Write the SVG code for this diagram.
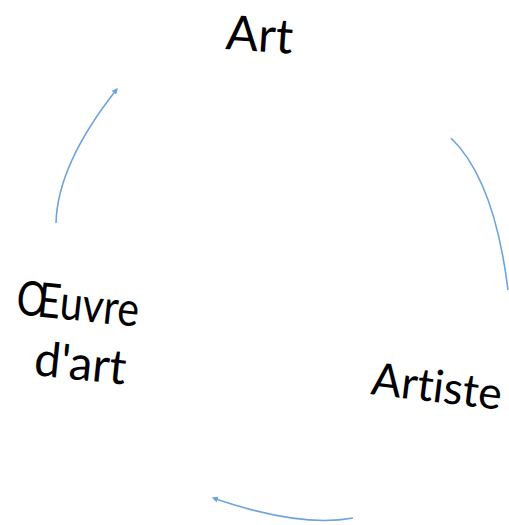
<svg xmlns="http://www.w3.org/2000/svg" width="509" height="525" viewBox="0 0 509 525">
<style>
.lbl{font-family:Lato,"Open Sans","Noto Sans",sans-serif;font-size:48px;fill:#000;font-variant-ligatures:none}
.arc{fill:none;stroke:#6ea3dc;stroke-width:1.6}
</style>
<defs>
<marker id="ah" viewBox="0 0 10 10" refX="8" refY="5" markerWidth="6" markerHeight="6" orient="auto" markerUnits="userSpaceOnUse">
<path d="M0,0 L10,5 L0,10 z" fill="#6ea3dc"/>
</marker>
</defs>
<rect width="509" height="525" fill="#fff"/>
<g id="connectors">
<path class="arc" d="M56,223 Q57.5,164 117,89" marker-end="url(#ah)"/>
<path class="arc" d="M451,138 Q494.5,180 508,290"/>
<path class="arc" d="M353,518 Q300,528 213,498" marker-end="url(#ah)"/>
</g>
<g id="node-art">
<text class="lbl" x="225" y="49" textLength="67" lengthAdjust="spacingAndGlyphs" transform="rotate(4 225 49)">Art</text>
</g>
<g id="node-artiste">
<text class="lbl" x="370" y="394" style="font-size:45px" textLength="131" lengthAdjust="spacingAndGlyphs" transform="rotate(7 370 394)">Artiste</text>
</g>
<g id="node-oeuvre">
<text class="lbl" x="15" y="314" textLength="123" lengthAdjust="spacingAndGlyphs" transform="rotate(6 15 314)">Œuvre</text>
<text class="lbl" x="33" y="375" textLength="92" lengthAdjust="spacingAndGlyphs" transform="rotate(6 33 375)">d'art</text>
</g>
</svg>
